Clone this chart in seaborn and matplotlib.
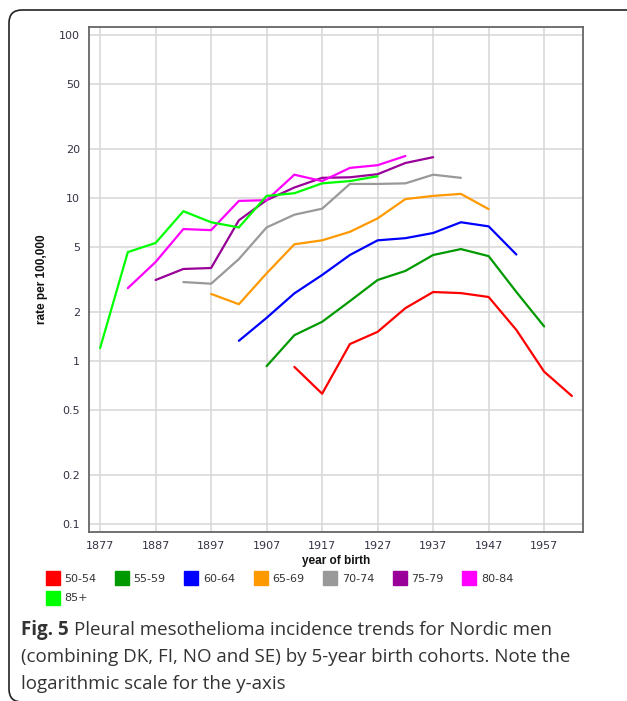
import numpy as np
import pandas as pd
import matplotlib
matplotlib.use("Agg")
import matplotlib.pyplot as plt
from matplotlib.lines import Line2D
from matplotlib.patches import FancyBboxPatch
import seaborn as sns

# birth cohorts (5-year groups) and incidence rate per 100,000 for each age group
cohorts = [1877, 1882, 1887, 1892, 1897, 1902, 1907, 1912, 1917,
           1922, 1927, 1932, 1937, 1942, 1947, 1952, 1957, 1962]
n = np.nan
age_50_54 = [n, n, n, n, n, n, n, 0.92, 0.63, 1.27, 1.51, 2.11, 2.65, 2.61, 2.47, 1.55, 0.86, 0.61]
age_55_59 = [n, n, n, n, n, n, 0.93, 1.44, 1.74, 2.33, 3.14, 3.57, 4.47, 4.86, 4.4, 2.65, 1.63, n]
age_60_64 = [n, n, n, n, n, 1.33, 1.84, 2.6, 3.37, 4.47, 5.5, 5.67, 6.1, 7.1, 6.7, 4.5, n, n]
age_65_69 = [n, n, n, n, 2.58, 2.23, 3.45, 5.2, 5.5, 6.2, 7.5, 9.85, 10.3, 10.6, 8.55, n, n, n]
age_70_74 = [n, n, n, 3.05, 2.98, 4.22, 6.6, 7.9, 8.6, 12.2, 12.2, 12.3, 13.9, 13.3, n, n, n, n]
age_75_79 = [n, n, 3.14, 3.67, 3.72, 7.3, 9.7, 11.6, 13.3, 13.4, 14.0, 16.4, 17.8, n, n, n, n, n]
age_80_84 = [n, 2.8, 4.05, 6.45, 6.35, 9.6, 9.7, 13.9, 12.7, 15.3, 15.9, 18.1, n, n, n, n, n, n]
age_85_up = [1.2, 4.66, 5.3, 8.3, 7.1, 6.6, 10.3, 10.7, 12.3, 12.7, 13.6, n, n, n, n, n, n, n]

groups = ["50-54", "55-59", "60-64", "65-69", "70-74", "75-79", "80-84", "85+"]
colors = ["#ff0000", "#009900", "#0000ff", "#ff9900", "#999999", "#990099", "#ff00ff", "#00ff00"]
series = [age_50_54, age_55_59, age_60_64, age_65_69, age_70_74, age_75_79, age_80_84, age_85_up]

yticks = [0.1, 0.2, 0.5, 1, 2, 5, 10, 20, 50, 100]
ytick_labels = ["0.1", "0.2", "0.5", "1", "2", "5", "10", "20", "50", "100"]
xticks = [1877, 1887, 1897, 1907, 1917, 1927, 1937, 1947, 1957]

df = pd.DataFrame({g: s for g, s in zip(groups, series)})
df["cohort"] = cohorts
long = df.melt(id_vars="cohort", var_name="age", value_name="rate").dropna()

sns.set_style("white")
plt.rcParams["font.family"] = ["DejaVu Sans"]

fig = plt.figure(figsize=(6.27, 7.01), dpi=100)
ax = fig.add_axes([89 / 627, 1 - 532 / 701, 494 / 627, 505 / 701])

sns.lineplot(data=long, x="cohort", y="rate", hue="age", hue_order=groups,
             palette=dict(zip(groups, colors)), estimator=None, sort=True,
             linewidth=1.6, legend=False, ax=ax)

ax.set_yscale("log")
ax.set_ylim(0.0893, 112)
ax.set_xlim(1875, 1964)
ax.yaxis.set_major_locator(matplotlib.ticker.FixedLocator(yticks))
ax.yaxis.set_minor_locator(matplotlib.ticker.NullLocator())
ax.set_yticklabels(ytick_labels)
ax.set_xticks(xticks)
ax.set_xticklabels([str(x) for x in xticks])
ax.grid(True, color="#d6d6d6", linewidth=1.1)
ax.set_axisbelow(True)
for s in ax.spines.values():
    s.set_color("#666666")
    s.set_linewidth(1.3)
ax.tick_params(axis="both", direction="out", length=4, width=1, color="#444444",
               labelsize=8, labelcolor="#333344", pad=2.5)

ax.set_xlabel("year of birth", fontfamily="Liberation Sans", fontweight="bold",
              fontsize=8.5, color="#111111")
ax.set_ylabel("rate per 100,000", fontfamily="Liberation Sans", fontweight="bold",
              fontsize=8.5, color="#111111")
ax.xaxis.set_label_coords(0.5, -0.045)
ax.yaxis.set_label_coords(-0.083, 0.5)

# legend fills column by column: put 85+ under 50-54
order = [0, 7, 1, 2, 3, 4, 5, 6]
handles = [Line2D([], [], marker="s", linestyle="", markersize=9.4,
                  markerfacecolor=colors[i], markeredgecolor=colors[i]) for i in order]
fig.legend(handles, [groups[i] for i in order], loc="upper left",
           bbox_to_anchor=(46 / 627, 1 - 574 / 701),
           ncol=7, frameon=False, fontsize=8, handlelength=1.2, handletextpad=0.45,
           columnspacing=1.7, labelspacing=0.85, borderpad=0, borderaxespad=0,
           labelcolor="#333333")

# caption below the chart
cap_kw = dict(fontfamily="Open Sans", fontsize=13.5, color="#333333", va="center")
t = fig.text(21 / 627, 1 - 630 / 701, "Fig. 5", fontweight="bold", **cap_kw)
fig.canvas.draw()
bb = t.get_window_extent()
fig.text((bb.x1 + 5) / 627, 1 - 630 / 701,
         "Pleural mesothelioma incidence trends for Nordic men", **cap_kw)
fig.text(21 / 627, 1 - 657 / 701,
         "(combining DK, FI, NO and SE) by 5-year birth cohorts. Note the", **cap_kw)
fig.text(21 / 627, 1 - 684 / 701, "logarithmic scale for the y-axis", **cap_kw)

# rounded frame of the figure panel
frame = FancyBboxPatch((0.09, -0.01), 7.5, 6.92, boxstyle="round,pad=0,rounding_size=0.13",
                       transform=fig.dpi_scale_trans, facecolor="none",
                       edgecolor="#222222", linewidth=1.2)
fig.add_artist(frame)

fig.savefig("out.png", dpi=100)
